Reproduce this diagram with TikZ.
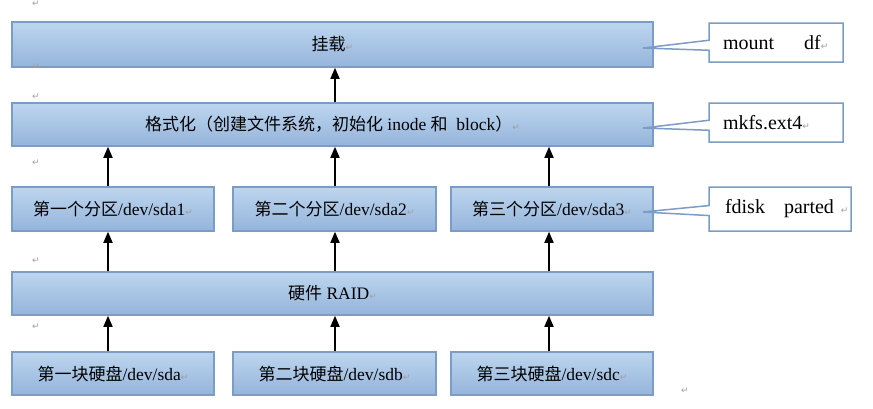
\documentclass[tikz,border=0pt]{standalone}
\usepackage{fontspec}
\setmainfont{Liberation Serif}
\newfontfamily\cjk{Noto Sans CJK SC}
\newfontfamily\symf{DejaVu Sans}
\usetikzlibrary{arrows.meta,shapes.callouts}
\definecolor{bxtop}{HTML}{BDD6EF}
\definecolor{bxbot}{HTML}{95B4DB}
\definecolor{bxline}{HTML}{7A9CC6}
\newcommand\retmark{{\color{gray!75}\fontsize{9}{9}\symf ↵}}
\newcommand\zh[1]{{\cjk\fontsize{17}{19}\selectfont #1}}
\begin{document}
\begin{tikzpicture}[x=1pt,y=-1pt,
  blbox/.style={draw=bxline,line width=1.5pt,top color=bxtop,bottom color=bxbot,
    inner sep=0pt,font=\fontsize{17.5}{20}\selectfont},
  callbox/.style={rectangle callout,draw=bxline,fill=white,line width=1.5pt,
    callout pointer width=10pt,align=left,inner ysep=0pt,inner xsep=0pt,
    font=\fontsize{20}{22}\selectfont},
  arr/.style={line width=1.6pt,-{Triangle[length=11pt,width=9pt]}},
  stray/.style={inner sep=0pt}]
\useasboundingbox (0,0) rectangle (873,408);

% main boxes
\node[blbox,minimum width=641pt,minimum height=45pt] (mnt) at (332.5,44.5) {\zh{挂载}\retmark};
\node[blbox,minimum width=641pt,minimum height=43pt] (fmt) at (332.5,124.5)
  {\zh{格式化（创建文件系统，初始化} inode \zh{和}\ \ block\zh{）}\retmark};
\node[blbox,minimum width=202pt,minimum height=44pt] (p1) at (113,209) {\zh{第一个分区}/dev/sda1\retmark};
\node[blbox,minimum width=203pt,minimum height=44pt] (p2) at (334.5,209) {\zh{第二个分区}/dev/sda2\retmark};
\node[blbox,minimum width=202pt,minimum height=44pt] (p3) at (552,209) {\zh{第三个分区}/dev/sda3\retmark};
\node[blbox,minimum width=641pt,minimum height=43pt] (raid) at (332.5,293.5) {\zh{硬件} RAID\retmark};
\node[blbox,minimum width=202pt,minimum height=43pt] (d1) at (113,373.5) {\zh{第一块硬盘}/dev/sda\retmark};
\node[blbox,minimum width=203pt,minimum height=43pt] (d2) at (334.5,373.5) {\zh{第二块硬盘}/dev/sdb\retmark};
\node[blbox,minimum width=202pt,minimum height=43pt] (d3) at (552,373.5) {\zh{第三块硬盘}/dev/sdc\retmark};

% arrow columns
\coordinate (xa) at (108,0);
\coordinate (xb) at (335,0);
\coordinate (xc) at (549,0);

\draw[arr] (d1.north -| xa) -- (raid.south -| xa);
\draw[arr] (d2.north -| xb) -- (raid.south -| xb);
\draw[arr] (d3.north -| xc) -- (raid.south -| xc);
\draw[arr] (raid.north -| xa) -- (p1.south -| xa);
\draw[arr] (raid.north -| xb) -- (p2.south -| xb);
\draw[arr] (raid.north -| xc) -- (p3.south -| xc);
\draw[arr] (p1.north -| xa) -- (fmt.south -| xa);
\draw[arr] (p2.north -| xb) -- (fmt.south -| xb);
\draw[arr] (p3.north -| xc) -- (fmt.south -| xc);
\draw[arr] (fmt.north -| xb) -- (mnt.south -| xb);

% callouts
\coordinate (pm) at (643,48);
\coordinate (pk) at (643,128);
\coordinate (pf) at (643,212);
\node[callbox,text width=134pt,minimum height=39pt,callout absolute pointer={(pm)}]
  (cm) at (776,42.5) {\mbox{\hspace*{14pt}mount\hspace{30pt}df\retmark}};
\node[callbox,text width=134pt,minimum height=39pt,callout absolute pointer={(pk)}]
  (ck) at (776,122.5) {\mbox{\hspace*{14pt}mkfs.ext4\retmark}};
\node[callbox,text width=142pt,minimum height=44pt,callout absolute pointer={(pf)}]
  (cf) at (780,209) {\mbox{\hspace*{16pt}fdisk\hspace{19pt}parted\hspace{7pt}\retmark}};

% paragraph marks
\node[stray] (r1) at (36,4) {\retmark};
\node[stray] (r2) at (36,67) {\retmark};
\node[stray] (r3) at (36,97) {\retmark};
\node[stray] (r4) at (36,163) {\retmark};
\node[stray] (r5) at (36,261) {\retmark};
\node[stray] (r6) at (36,327) {\retmark};
\node[stray] (r7) at (685,391) {\retmark};
\end{tikzpicture}
\end{document}
